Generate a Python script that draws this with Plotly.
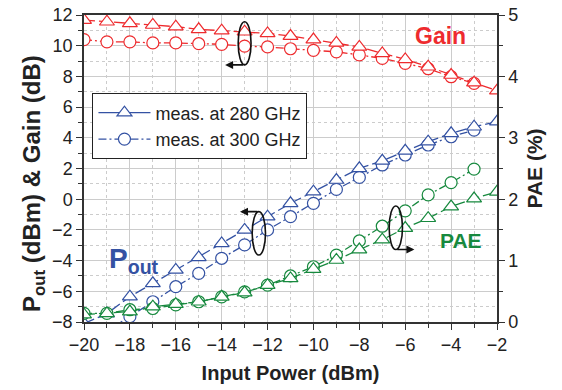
import plotly.graph_objects as go

x_in = [-20, -19, -18, -17, -16, -15, -14, -13, -12, -11, -10, -9, -8, -7, -6, -5, -4, -3, -2]

gain_280 = [11.67, 11.56, 11.46, 11.35, 11.24, 11.07, 10.98, 10.91, 10.8, 10.63, 10.4, 10.18, 9.92, 9.5, 9.11, 8.63, 8.09, 7.59, 7.07]
gain_300 = [10.4, 10.25, 10.25, 10.18, 10.18, 10.13, 10.09, 9.97, 9.92, 9.8, 9.7, 9.6, 9.4, 9.17, 8.85, 8.5, 7.98, 7.55, None]

pout_280 = [-8.1, -7.45, -6.35, -5.48, -4.61, -3.79, -2.88, -2.0, -1.14, -0.27, 0.49, 1.25, 2.01, 2.5, 3.15, 3.75, 4.29, 4.72, 5.05]
pout_300 = [-9.5, -8.6, -7.65, -6.68, -5.7, -4.83, -3.85, -2.98, -2.0, -1.14, -0.27, 0.64, 1.42, 2.23, 2.88, 3.53, 4.07, 4.5, None]

pae_280 = [0.12, 0.14, 0.17, 0.25, 0.29, 0.33, 0.41, 0.48, 0.6, 0.71, 0.86, 1.01, 1.18, 1.34, 1.53, 1.69, 1.88, 2.01, 2.12]
pae_300 = [0.14, 0.14, 0.2, 0.22, 0.28, 0.33, 0.41, 0.49, 0.6, 0.75, 0.9, 1.09, 1.32, 1.56, 1.81, 2.07, 2.27, 2.49, None]

legend_labels = ["meas. at 280 GHz", "meas. at 300 GHz"]

RED = "#EE2B2E"
BLUE = "#3452A3"
GREEN = "#17893E"
FONT = "Arial, Liberation Sans, sans-serif"
DASH = "11px,4px"
DASHDOT = "8px,3px,2px,3px"

fig = go.Figure()

def add(y, color, dash, symbol, yaxis="y"):
    fig.add_trace(go.Scatter(
        x=x_in, y=y, mode="lines+markers", yaxis=yaxis, showlegend=False,
        connectgaps=False,
        line=dict(color=color, width=1.3, dash=dash),
        marker=dict(symbol=symbol, size=13 if "triangle" in symbol else 12,
                    color="white", line=dict(color=color, width=1.2)),
    ))

add(gain_300, RED, DASHDOT, "circle")
add(gain_280, RED, DASH, "triangle-up")
add(pout_300, BLUE, DASHDOT, "circle")
add(pout_280, BLUE, DASH, "triangle-up")
add(pae_300, GREEN, DASHDOT, "circle", "y2")
add(pae_280, GREEN, DASH, "triangle-up", "y2")

# legend entries
fig.add_trace(go.Scatter(x=[None], y=[None], mode="lines+markers", name=legend_labels[0],
                         line=dict(color=BLUE, width=1.3, dash="solid"),
                         marker=dict(symbol="triangle-up", size=13, color="white", line=dict(color=BLUE, width=1.2))))
fig.add_trace(go.Scatter(x=[None], y=[None], mode="lines+markers", name=legend_labels[1],
                         line=dict(color=BLUE, width=1.3, dash=DASHDOT),
                         marker=dict(symbol="circle", size=12, color="white", line=dict(color=BLUE, width=1.2))))

axis_common = dict(
    showline=True, linecolor="#333333", linewidth=1.5,
    ticks="outside", ticklen=6, tickwidth=1.3, tickcolor="#333333",
    tickfont=dict(family=FONT, size=18, color="#222222"),
    zeroline=False, automargin=False,
)

fig.update_layout(
    width=562, height=390,
    margin=dict(l=84, r=65, t=15, b=68, autoexpand=False),
    paper_bgcolor="white", plot_bgcolor="white",
    showlegend=True,
    legend=dict(x=0.02, y=0.745, xanchor="left", yanchor="top",
                bordercolor="#222222", borderwidth=1.2, bgcolor="white",
                font=dict(family=FONT, size=18, color="#222222"),
                tracegroupgap=0, itemwidth=52),
    xaxis=dict(
        range=[-20, -2], dtick=2, tick0=-20, mirror=True,
        showgrid=True, gridcolor="#CCCCCC", gridwidth=1.2,
        minor=dict(dtick=1, showgrid=True, gridcolor="#CCCCCC", griddash="dot",
                   ticks="outside", ticklen=4, tickcolor="#333333"),
        title=dict(text="Input Power (dBm)", font=dict(family=FONT, size=20, color="#222222", weight="bold"), standoff=12),
        **axis_common,
    ),
    yaxis=dict(
        range=[-8, 12], dtick=2, tick0=-8,
        showgrid=True, gridcolor="#CCCCCC", gridwidth=1.2,
        minor=dict(dtick=1, showgrid=True, gridcolor="#CCCCCC", griddash="dot",
                   ticks="outside", ticklen=4, tickcolor="#333333"),
        **axis_common,
    ),
    yaxis2=dict(
        range=[0, 5], dtick=1, overlaying="y", side="right", showgrid=False,
        minor=dict(dtick=0.5, ticks="outside", ticklen=4, tickcolor="#333333"),
        title=dict(text="PAE (%)", font=dict(family=FONT, size=21, color="#222222", weight="bold"), standoff=10),
        **axis_common,
    ),
)

# left axis title as rotated annotation (placed like the reference)
fig.add_annotation(xref="paper", yref="paper", x=-0.163, y=0.45, textangle=-90,
                   text="<b>P<sub>out</sub> (dBm) & Gain (dB)</b>", showarrow=False,
                   font=dict(family=FONT, size=24, color="#222222"))

# ellipses and arrows
fig.add_shape(type="circle", xref="x", yref="y", x0=-13.28, x1=-12.72, y0=8.75, y1=11.56,
              line=dict(color="#111111", width=1.6))
fig.add_shape(type="circle", xref="x", yref="y", x0=-12.67, x1=-12.09, y0=-3.64, y1=-0.81,
              line=dict(color="#111111", width=1.6))
fig.add_shape(type="circle", xref="x", yref="y2", x0=-6.70, x1=-6.12, y0=1.18, y1=1.89,
              line=dict(color="#111111", width=1.6))

def arrow(x_head, y_head, x_tail, y_tail, yref="y"):
    fig.add_annotation(x=x_head, y=y_head, ax=x_tail, ay=y_tail, xref="x", yref=yref,
                       axref="x", ayref=yref, showarrow=True, arrowhead=2, arrowsize=1,
                       arrowwidth=1.6, arrowcolor="#111111", text="")

arrow(-13.85, 8.75, -13.0, 8.75)
arrow(-13.2, -0.81, -12.38, -0.81)
arrow(-5.6, 1.18, -6.41, 1.18, "y2")

fig.add_annotation(x=-4.48, y=10.6, xref="x", yref="y", text="<b>Gain</b>", showarrow=False,
                   font=dict(family=FONT, size=23, color=RED))
fig.add_annotation(x=-3.58, y=-2.72, xref="x", yref="y", text="<b>PAE</b>", showarrow=False,
                   font=dict(family=FONT, size=21, color=GREEN))
fig.add_annotation(x=-18.98, y=-4.0, xref="x", yref="y", xanchor="left", text="<b>P<sub>out</sub></b>",
                   showarrow=False, font=dict(family=FONT, size=28, color=BLUE))

fig.write_html("out.html", config={"displayModeBar": False},
               post_script="document.body.style.margin='0';")
